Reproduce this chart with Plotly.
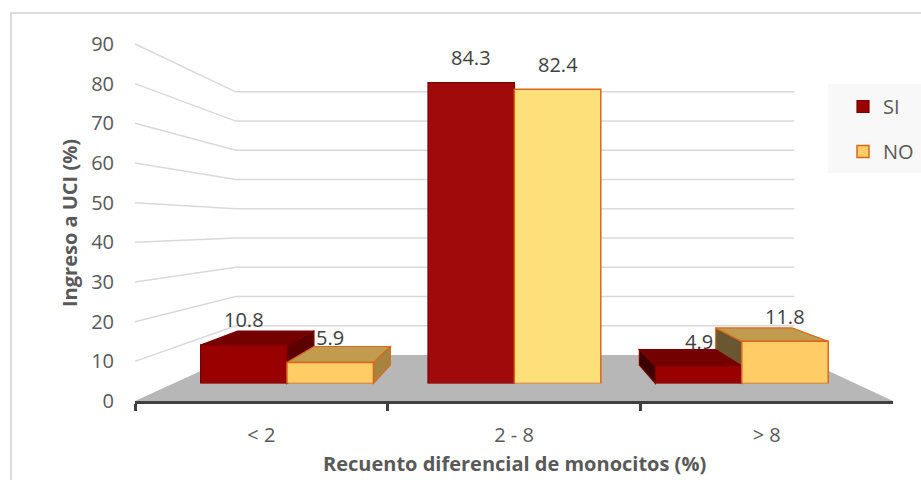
import plotly.graph_objects as go

# ---- data -------------------------------------------------------------
categories = ["< 2", "2 - 8", "> 8"]
series_names = ["SI", "NO"]
si_values = [10.8, 84.3, 4.9]
no_values = [5.9, 82.4, 11.8]
y_ticks = [0, 10, 20, 30, 40, 50, 60, 70, 80, 90]

x_title = "Recuento diferencial de monocitos (%)"
y_title = "Ingreso a UCI (%)"

# ---- canvas and pseudo-3D perspective model (pixels) -----------------
W, H = 921, 480
FONT = "'Open Sans', sans-serif"
VP = (518.0, 226.0)           # vanishing point of the scene
FRONT_X = (135.0, 893.0)      # front edge of the floor = category axis
FRONT_Y0, FRONT_YTOP = 401.0, 44.0
Y_MAX = 90
D_WALL = 0.263                # depth of the back wall
D_BAR_FRONT = 0.10            # depth of the columns' front faces
D_BAR_BACK = 0.205            # depth of the columns' back faces
BARGAP = 0.24
HALF = (1 - BARGAP) / 2       # width of one column in category units


def to_depth(px, py, d):
    return VP[0] + (px - VP[0]) * (1 - d), VP[1] + (py - VP[1]) * (1 - d)


def front_y(v):
    return FRONT_Y0 + (FRONT_YTOP - FRONT_Y0) * v / Y_MAX


def fx(px):
    return px / W


def fy(py):
    return 1 - py / H


# domain of the column subplot = the front axes pushed back to the column plane
bx0 = to_depth(FRONT_X[0], 0, D_BAR_FRONT)[0]
bx1 = to_depth(FRONT_X[1], 0, D_BAR_FRONT)[0]
by0 = to_depth(0, FRONT_Y0, D_BAR_FRONT)[1]
by1 = to_depth(0, FRONT_YTOP, D_BAR_FRONT)[1]
n_cat = len(categories)


def col_px(pos):
    return bx0 + (pos + 0.5) * (bx1 - bx0) / n_cat


def col_py(v):
    return by0 + (by1 - by0) * v / Y_MAX


def back_of(px, py):
    s = (1 - D_BAR_BACK) / (1 - D_BAR_FRONT)
    return VP[0] + (px - VP[0]) * s, VP[1] + (py - VP[1]) * s


def path(points):
    return "M" + " L".join(f"{fx(x):.5f},{fy(y):.5f}" for x, y in points) + " Z"


shapes = []

# chart frame
shapes.append(dict(type="rect", xref="paper", yref="paper", layer="below",
                   x0=fx(11), x1=fx(W + 5), y0=fy(H + 5), y1=fy(13),
                   line=dict(color="#d0d0d0", width=1.5), fillcolor="rgba(0,0,0,0)"))

# side-wall and back-wall gridlines
for v in y_ticks[1:]:
    p0 = (FRONT_X[0], front_y(v))
    p1 = to_depth(FRONT_X[0], front_y(v), D_WALL)
    p2 = to_depth(FRONT_X[1], front_y(v), D_WALL)
    shapes.append(dict(type="path", xref="paper", yref="paper", layer="below",
                       path=f"M{fx(p0[0]):.5f},{fy(p0[1]):.5f} L{fx(p1[0]):.5f},{fy(p1[1]):.5f} "
                            f"L{fx(p2[0]):.5f},{fy(p2[1]):.5f}",
                       line=dict(color="#d9d9d9", width=1.5)))

# floor
floor = [(FRONT_X[0], FRONT_Y0), (FRONT_X[1], FRONT_Y0),
         to_depth(FRONT_X[1], FRONT_Y0, D_WALL), to_depth(FRONT_X[0], FRONT_Y0, D_WALL)]
shapes.append(dict(type="path", xref="paper", yref="paper", layer="below",
                   path=path(floor), fillcolor="#b7b7b7", line=dict(width=0)))

# shaded faces of every column
face_colors = {
    "SI": dict(top="#750000", right="#5c0000", left="#3d0000", edge="#7a0000"),
    "NO": dict(top="#c29c4e", right="#a6843f", left="#6a5631", edge="#d8691c"),
}
columns = []
for i in range(n_cat):
    columns.append(("SI", i - HALF, i, si_values[i]))
    columns.append(("NO", i, i + HALF, no_values[i]))
columns.sort(key=lambda c: -abs(col_px((c[1] + c[2]) / 2) - VP[0]))

for name, left, right, val in columns:
    xl, xr = col_px(left), col_px(right)
    yb, yt = col_py(0), col_py(val)
    c = face_colors[name]
    faces = []
    if xr < VP[0]:
        faces.append(([(xr, yb), (xr, yt), back_of(xr, yt), back_of(xr, yb)], c["right"]))
    if xl > VP[0]:
        faces.append(([(xl, yb), (xl, yt), back_of(xl, yt), back_of(xl, yb)], c["left"]))
    if yt > VP[1]:
        faces.append(([(xl, yt), (xr, yt), back_of(xr, yt), back_of(xl, yt)], c["top"]))
    for pts, col in faces:
        shapes.append(dict(type="path", xref="paper", yref="paper", layer="below",
                           path=path(pts), fillcolor=col,
                           line=dict(color=c["edge"], width=1.2)))

# legend panel
shapes.append(dict(type="rect", xref="paper", yref="paper", layer="below",
                   x0=fx(828), x1=fx(W + 5), y0=fy(173), y1=fy(84),
                   fillcolor="#f8f8f8", line=dict(width=0)))

# ---- traces -----------------------------------------------------------
fig = go.Figure()
# invisible carrier so the front category/value axes get drawn
fig.add_trace(go.Scatter(x=categories, y=[0] * n_cat, xaxis="x", yaxis="y",
                         mode="markers", marker=dict(opacity=0),
                         showlegend=False, hoverinfo="skip"))
# front faces of the columns
fig.add_trace(go.Bar(
    name=series_names[0], x=categories, y=si_values, xaxis="x2", yaxis="y2",
    marker=dict(color=["#990000", "#a10a0a", "#990000"],
                line=dict(color="#7a0000", width=1.2)),
    legendgroup="si", hoverinfo="skip"))
fig.add_trace(go.Bar(
    name=series_names[1], x=categories, y=no_values, xaxis="x2", yaxis="y2",
    marker=dict(color=["#ffcc66", "#fee07a", "#ffcc66"],
                line=dict(color="#d8691c", width=1.5)),
    legendgroup="no", hoverinfo="skip"))

# value labels
annotations = []
for vals, off in ((si_values, -HALF / 2), (no_values, HALF / 2)):
    for i, v in enumerate(vals):
        annotations.append(dict(x=i + off, y=v, xref="x2", yref="y2", text=f"{v:.1f}",
                                showarrow=False, xanchor="center", yanchor="middle", yshift=25,
                                font=dict(family=FONT, size=20, color="#404040")))

# axis titles
annotations.append(dict(x=fx((FRONT_X[0] + FRONT_X[1]) / 2), y=fy(463), xref="paper", yref="paper",
                        xanchor="center", yanchor="middle",
                        text=f"<b>{x_title}</b>", showarrow=False,
                        font=dict(family=FONT, size=20, color="#595959")))
annotations.append(dict(x=fx(69), y=fy(223), xref="paper", yref="paper",
                        xanchor="center", yanchor="middle",
                        text=f"<b>{y_title}</b>", showarrow=False, textangle=-90,
                        font=dict(family=FONT, size=20, color="#595959")))

fig.update_layout(
    width=W, height=H,
    margin=dict(l=0, r=0, t=0, b=0, autoexpand=False),
    paper_bgcolor="white", plot_bgcolor="rgba(0,0,0,0)",
    barmode="group", bargap=BARGAP, bargroupgap=0,
    font=dict(family=FONT, size=20, color="#595959"),
    shapes=shapes, annotations=annotations,
    showlegend=True,
    legend=dict(x=fx(843), y=fy(87), xanchor="left", yanchor="top",
                bgcolor="rgba(0,0,0,0)", traceorder="grouped", tracegroupgap=16,
                font=dict(family=FONT, size=20, color="#595959")),
    xaxis=dict(domain=[fx(FRONT_X[0]), fx(FRONT_X[1])], type="category",
               categoryorder="array", categoryarray=categories, anchor="y",
               range=[-0.5, n_cat - 0.5], automargin=False,
               showline=True, linecolor="#404040", linewidth=3,
               ticks="outside", tickson="boundaries", ticklen=7, tickwidth=3,
               tickcolor="#404040", showgrid=False, zeroline=False,
               ticklabelstandoff=14, tickfont=dict(family=FONT, size=20, color="#595959")),
    yaxis=dict(domain=[fy(FRONT_Y0), fy(FRONT_YTOP)], range=[0, Y_MAX], anchor="x",
               automargin=False,
               tickvals=y_ticks, showgrid=False, zeroline=False, showline=False,
               ticks="", ticklabelstandoff=20,
               tickfont=dict(family=FONT, size=20, color="#595959")),
    xaxis2=dict(domain=[fx(bx0), fx(bx1)], type="category", categoryorder="array",
                categoryarray=categories, anchor="y2", visible=False),
    yaxis2=dict(domain=[fy(by0), fy(by1)], range=[0, Y_MAX], anchor="x2", visible=False),
)

fig.write_html("out.html")
